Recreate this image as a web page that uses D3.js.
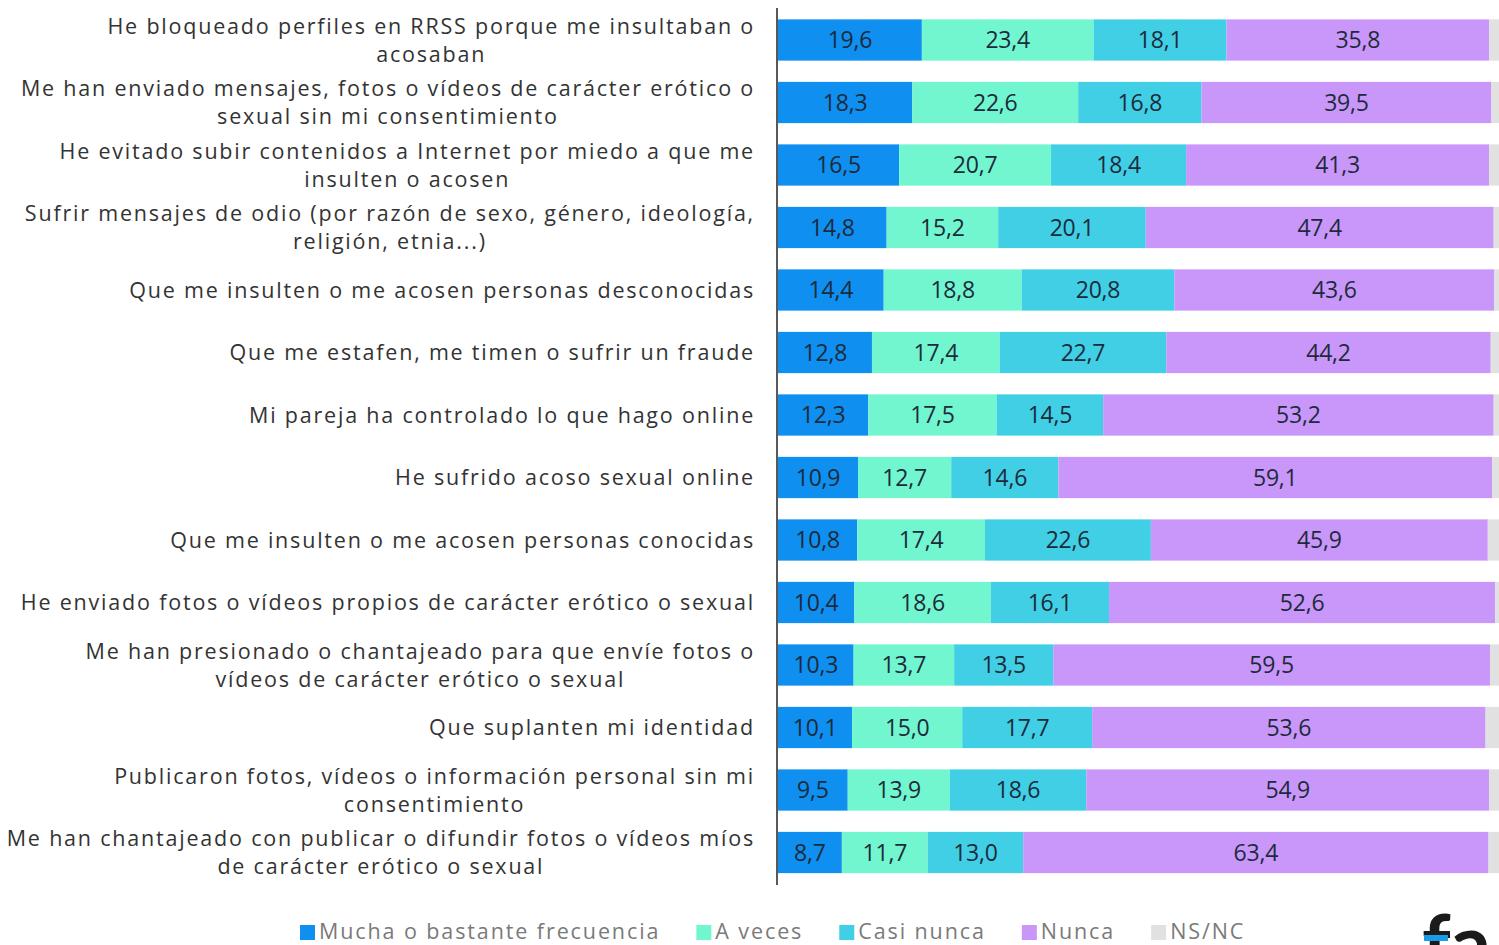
<!DOCTYPE html>
<html>
<head>
<meta charset="utf-8">
<script src="https://cdn.jsdelivr.net/npm/d3@7"></script>
<style>
  body { margin: 0; background: #fff; }
  svg { display: block; overflow: hidden; }
</style>
</head>
<body>
<div id="g"></div>
<script>
// categories, top to bottom (each entry = label lines)
var categories = [
    ["He bloqueado perfiles en RRSS porque me insultaban o", "acosaban"],
    ["Me han enviado mensajes, fotos o vídeos de carácter erótico o", "sexual sin mi consentimiento"],
    ["He evitado subir contenidos a Internet por miedo a que me", "insulten o acosen"],
    ["Sufrir mensajes de odio (por razón de sexo, género, ideología,", "religión, etnia...)"],
    ["Que me insulten o me acosen personas desconocidas"],
    ["Que me estafen, me timen o sufrir un fraude"],
    ["Mi pareja ha controlado lo que hago online"],
    ["He sufrido acoso sexual online"],
    ["Que me insulten o me acosen personas conocidas"],
    ["He enviado fotos o vídeos propios de carácter erótico o sexual"],
    ["Me han presionado o chantajeado para que envíe fotos o", "vídeos de carácter erótico o sexual"],
    ["Que suplanten mi identidad"],
    ["Publicaron fotos, vídeos o información personal sin mi", "consentimiento"],
    ["Me han chantajeado con publicar o difundir fotos o vídeos míos", "de carácter erótico o sexual"]
];

var seriesNames = ["Mucha o bastante frecuencia", "A veces", "Casi nunca", "Nunca", "NS/NC"];

var mucha     = [19.6, 18.3, 16.5, 14.8, 14.4, 12.8, 12.3, 10.9, 10.8, 10.4, 10.3, 10.1, 9.5, 8.7];
var aVeces    = [23.4, 22.6, 20.7, 15.2, 18.8, 17.4, 17.5, 12.7, 17.4, 18.6, 13.7, 15.0, 13.9, 11.7];
var casiNunca = [18.1, 16.8, 18.4, 20.1, 20.8, 22.7, 14.5, 14.6, 22.6, 16.1, 13.5, 17.7, 18.6, 13.0];
var nunca     = [35.8, 39.5, 41.3, 47.4, 43.6, 44.2, 53.2, 59.1, 45.9, 52.6, 59.5, 53.6, 54.9, 63.4];
var nsnc      = [3.1, 2.8, 3.1, 2.5, 2.4, 2.9, 2.5, 2.7, 3.3, 2.3, 3.0, 3.6, 3.1, 3.2];

var colors = ["#0f8ff0", "#72f6d0", "#41cfe6", "#c996fa", "#e1e1e1"];

var WIDTH = 1499, HEIGHT = 945;
var X0 = 778;

var rows = categories.map(function(c, i) {
    return { id: i, lines: c, values: [mucha[i], aVeces[i], casiNunca[i], nunca[i], nsnc[i]] };
});

var svg = d3.select("#g").append("svg")
    .attr("width", WIDTH)
    .attr("height", HEIGHT);

var x = d3.scaleLinear().domain([0, 100]).range([X0, X0 + 734]);
var y = d3.scaleBand()
    .domain(rows.map(function(d) { return d.id; }))
    .range([8.75, 883.75])
    .paddingInner(0.34)
    .paddingOuter(0.17);

var fmt = function(v) { return d3.format(".1f")(v).replace(".", ","); };

/* ----- bars ----- */
var rowG = svg.selectAll("g.row")
    .data(rows)
    .enter().append("g")
    .attr("class", "row")
    .attr("transform", function(d) { return "translate(0," + y(d.id) + ")"; });

rowG.selectAll("rect")
    .data(function(d) {
        var acc = 0;
        return d.values.map(function(v, k) {
            var s = { k: k, start: acc, end: acc + v, v: v };
            acc += v;
            return s;
        });
    })
    .enter().append("rect")
    .attr("x", function(d) { return x(d.start); })
    .attr("y", 0)
    .attr("width", function(d) { return x(d.end) - x(d.start); })
    .attr("height", y.bandwidth())
    .attr("fill", function(d) { return colors[d.k]; });

rowG.selectAll("text.val")
    .data(function(d) {
        var acc = 0;
        return d.values.slice(0, 4).map(function(v, k) {
            var s = { k: k, mid: acc + v / 2, v: v };
            acc += v;
            return s;
        });
    })
    .enter().append("text")
    .attr("class", "val")
    .attr("x", function(d) { return x(d.mid); })
    .attr("y", y.bandwidth() / 2)
    .attr("dy", "0.36em")
    .attr("text-anchor", "middle")
    .attr("font-family", "Open Sans, sans-serif")
    .attr("font-size", 23)
    .attr("letter-spacing", "-0.2px")
    .attr("fill", "#1c2b3a")
    .text(function(d) { return fmt(d.v); });

/* ----- axis line ----- */
svg.append("line")
    .attr("x1", X0 - 1).attr("x2", X0 - 1)
    .attr("y1", 8).attr("y2", 885)
    .attr("stroke", "#222")
    .attr("stroke-width", 1.5);

/* ----- category labels (centered block, right aligned) ----- */
var LABEL_RIGHT = 755, LINE_H = 28;
var labels = svg.selectAll("g.lab")
    .data(rows)
    .enter().append("g")
    .attr("class", "lab");

labels.each(function(d) {
    var g = d3.select(this);
    var cy = y(d.id) + y.bandwidth() / 2;
    var n = d.lines.length;
    var texts = g.selectAll("text")
        .data(d.lines)
        .enter().append("text")
        .attr("y", function(l, j) { return cy + (j - (n - 1) / 2) * LINE_H; })
        .attr("dy", "0.35em")
        .attr("font-family", "Open Sans, sans-serif")
        .attr("font-size", 21.5)
        .attr("letter-spacing", "1.8px")
        .attr("fill", "#333")
        .attr("text-anchor", "middle")
        .text(function(l) { return l; });
    var maxW = 0;
    texts.each(function() { maxW = Math.max(maxW, this.getComputedTextLength()); });
    texts.attr("x", LABEL_RIGHT - maxW / 2);
});

/* ----- legend ----- */
var legend = svg.append("g").attr("transform", "translate(300,931)");
var lx = 0;
seriesNames.forEach(function(name, k) {
    legend.append("rect")
        .attr("x", lx).attr("y", -6)
        .attr("width", 15).attr("height", 15)
        .attr("fill", colors[k]);
    var t = legend.append("text")
        .attr("x", lx + 19)
        .attr("y", 0)
        .attr("dy", "0.36em")
        .attr("font-family", "Open Sans, sans-serif")
        .attr("font-size", 21.5)
        .attr("letter-spacing", "1.9px")
        .attr("fill", "#7a7a7a")
        .text(name);
    lx += 19 + t.node().getComputedTextLength() + 36;
});

/* ----- logo (cut at bottom, as in the source) ----- */
svg.append("text")
    .attr("x", 1422).attr("y", 972)
    .attr("font-family", "Lato, sans-serif")
    .attr("font-weight", "bold")
    .attr("font-size", 80)
    .attr("fill", "#1b1b1b")
    .text("fa");
svg.append("rect")
    .attr("x", 1424).attr("y", 935)
    .attr("width", 24).attr("height", 6)
    .attr("fill", "#1a9be8");
</script>
</body>
</html>
